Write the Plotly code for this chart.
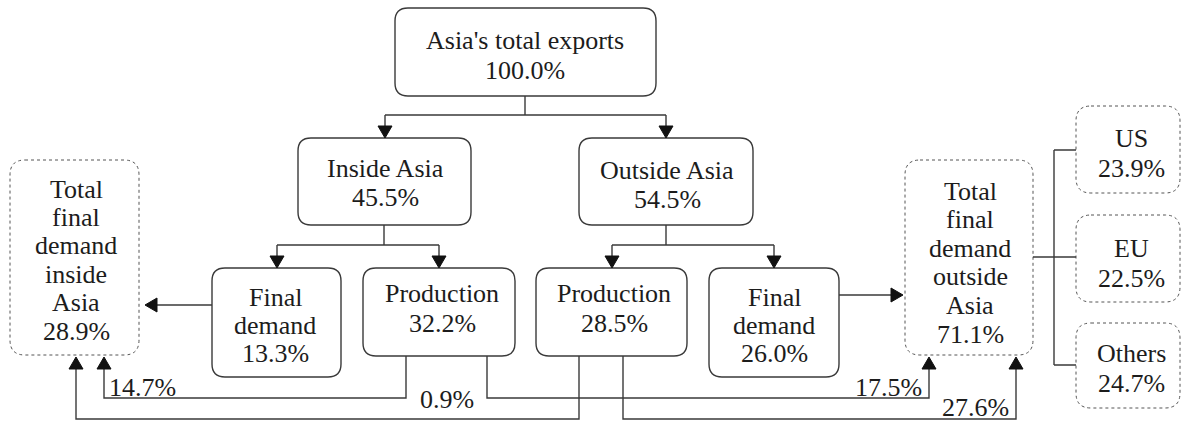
import plotly.graph_objects as go

# ---------------- data ----------------
node_labels = [
    "Asia's total exports", "Inside Asia", "Outside Asia",
    "Final<br>demand", "Production", "Production", "Final<br>demand",
    "Total<br>final<br>demand<br>inside<br>Asia",
    "Total<br>final<br>demand<br>outside<br>Asia",
    "US", "EU", "Others",
]
node_values = [100.0, 45.5, 54.5, 13.3, 32.2, 28.5, 26.0, 28.9, 71.1, 23.9, 22.5, 24.7]

flow_values = [14.7, 17.5, 0.9, 27.6]   # prod-in->in, prod-in->out, prod-out->in, prod-out->out

# ---------------- layout (pixel coordinates) ----------------
# x0, y0, x1, y1, dotted, text_x, first_line_y, line_step
boxes = [
    (395, 8, 656, 96, False, 525, 40, 30),
    (298, 138, 471, 225, False, 385, 168, 29),
    (579, 138, 753, 225, False, 667, 170, 29),
    (212, 268, 341, 377, False, 275, 297, 28),
    (363, 268, 515, 356, False, 442, 293, 30),
    (536, 268, 687, 356, False, 614, 293, 30),
    (709, 268, 839, 377, False, 774, 297, 28),
    (10, 160, 139, 355, True, 76, 189, 28.4),
    (905, 160, 1033, 355, True, 970, 191, 28.6),
    (1076, 106, 1180, 193, True, 1131, 138, 30),
    (1076, 215, 1180, 302, True, 1131, 248, 30),
    (1076, 323, 1180, 408, True, 1131, 353, 30),
]

LINE = "#3a3a3a"
TEXT = "#1c1c1c"
FONT = "Liberation Serif"
FS = 26


def rounded(x0, y0, x1, y1, r):
    return (f"M {x0+r},{y0} L {x1-r},{y0} Q {x1},{y0} {x1},{y0+r} "
            f"L {x1},{y1-r} Q {x1},{y1} {x1-r},{y1} L {x0+r},{y1} "
            f"Q {x0},{y1} {x0},{y1-r} L {x0},{y0+r} Q {x0},{y0} {x0+r},{y0} Z")


shapes = []
annotations = []

for i, (x0, y0, x1, y1, dotted, tx, ty, step) in enumerate(boxes):
    shapes.append(dict(
        type="path", path=rounded(x0, y0, x1, y1, 15 if dotted else 13),
        xref="x", yref="y",
        line=dict(color="#555555" if dotted else LINE, width=1 if dotted else 1.4,
                  dash="dot" if dotted else "solid"),
        fillcolor="rgba(0,0,0,0)",
    ))
    lines = node_labels[i].split("<br>") + [f"{node_values[i]:.1f}%"]
    for k, t in enumerate(lines):
        annotations.append(dict(
            x=tx, y=ty + k * step, xref="x", yref="y", text=t, showarrow=False,
            xanchor="center", yanchor="middle",
            font=dict(family=FONT, size=FS, color=TEXT),
        ))


def seg(path):
    shapes.append(dict(type="path", path=path, xref="x", yref="y",
                       line=dict(color=LINE, width=1.4)))


def head(tx, ty, d):
    # filled triangle arrowhead with tip at (tx, ty), pointing in direction d
    L, W = 12, 7
    if d == "down":
        p = f"M {tx},{ty} L {tx-W},{ty-L} L {tx+W},{ty-L} Z"
    elif d == "up":
        p = f"M {tx},{ty} L {tx-W},{ty+L} L {tx+W},{ty+L} Z"
    elif d == "left":
        p = f"M {tx},{ty} L {tx+L},{ty-W} L {tx+L},{ty+W} Z"
    else:
        p = f"M {tx},{ty} L {tx-L},{ty-W} L {tx-L},{ty+W} Z"
    shapes.append(dict(type="path", path=p, xref="x", yref="y",
                       line=dict(color="#111111", width=1), fillcolor="#111111"))


# top fork
seg("M 525,96 L 525,115 M 385,115 L 666,115 M 385,115 L 385,127 M 666,115 L 666,127")
head(385, 138, "down"); head(666, 138, "down")
# inside Asia fork
seg("M 384,225 L 384,245 M 277,245 L 439,245 M 277,245 L 277,257 M 439,245 L 439,257")
head(277, 268, "down"); head(439, 268, "down")
# outside Asia fork
seg("M 666,225 L 666,245 M 612,245 L 774,245 M 612,245 L 612,257 M 774,245 L 774,257")
head(612, 268, "down"); head(774, 268, "down")
# final demand arrows
seg("M 212,305 L 156,305"); head(145, 305, "left")
seg("M 839,295 L 892,295"); head(903, 295, "right")
# production flows
seg("M 406,356 L 406,398 L 104,398 L 104,368"); head(104, 357, "up")
seg("M 487,356 L 487,398 L 929,398 L 929,368"); head(929, 357, "up")
seg("M 579,356 L 579,419 L 76,419 L 76,368"); head(76, 357, "up")
seg("M 623,356 L 623,419 L 1016,419 L 1016,368"); head(1016, 357, "up")
# split of final demand outside Asia
seg("M 1033,257 L 1054,257 M 1054,150 L 1054,365 M 1054,150 L 1076,150 "
    "M 1054,257 L 1076,257 M 1054,365 L 1076,365")

# flow labels
flow_pos = [(107, 387, "left"), (924, 387, "right"), (447, 399, "center"), (1011, 407, "right")]
for v, (x, y, anc) in zip(flow_values, flow_pos):
    annotations.append(dict(
        x=x, y=y, xref="x", yref="y", text=f"{v:.1f}%", showarrow=False,
        xanchor=anc, yanchor="middle", bgcolor="rgba(0,0,0,0)",
        font=dict(family=FONT, size=FS, color=TEXT),
    ))

fig = go.Figure()
fig.update_layout(
    width=1181, height=421,
    margin=dict(l=0, r=0, t=0, b=0),
    paper_bgcolor="white", plot_bgcolor="white",
    xaxis=dict(range=[0, 1181], visible=False, fixedrange=True),
    yaxis=dict(range=[421, 0], visible=False, fixedrange=True),
    shapes=shapes, annotations=annotations, showlegend=False,
)
fig.write_html(
    "out.html",
    config={"displayModeBar": False},
    post_script="document.body.style.margin='0px';document.body.style.overflow='hidden';",
)
